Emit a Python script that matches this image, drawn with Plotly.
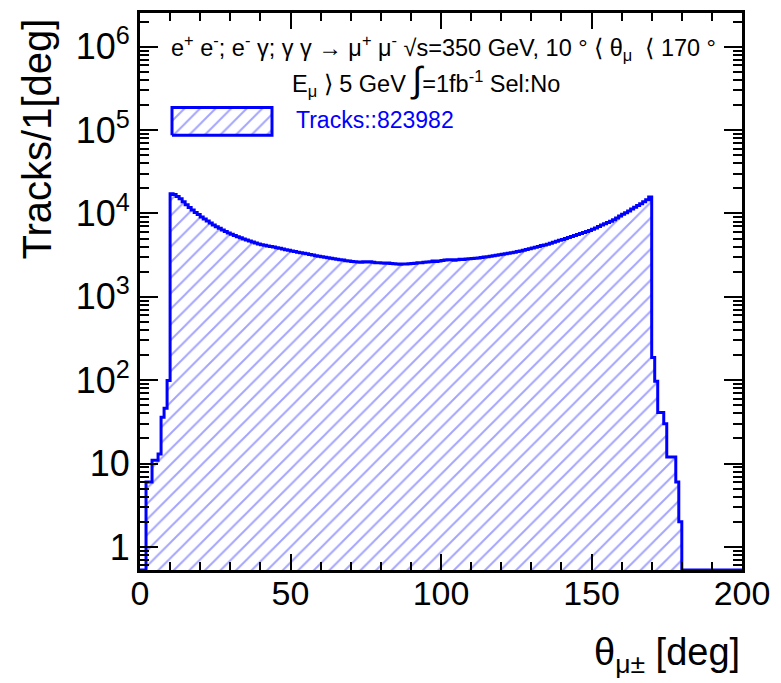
import numpy as np
import plotly.graph_objects as go

# ---- data: tracks per 1-degree bin, theta from 0 to 200 deg ----
bin_edges_start = 0
bin_width = 1
counts = [
    0, 0, 6, 6, 11, 11, 13, 36, 46, 99,                              # 0-9
    17300, 16900, 16000, 15000, 13800, 12700, 11800, 11000, 10300, 9700,   # 10-19
    9100, 8600, 8100, 7700, 7300, 6950, 6650, 6350, 6100, 5850,      # 20-29
    5650, 5450, 5250, 5100, 4950, 4800, 4680, 4550, 4420, 4320,      # 30-39
    4230, 4150, 4080, 4010, 3950, 3880, 3820, 3750, 3680, 3620,      # 40-49
    3560, 3500, 3440, 3390, 3330, 3280, 3220, 3170, 3120, 3070,      # 50-59
    3030, 2990, 2950, 2900, 2860, 2830, 2790, 2760, 2720, 2690,      # 60-69
    2660, 2640, 2620, 2600, 2640, 2620, 2640, 2600, 2560, 2570,      # 70-79
    2550, 2530, 2540, 2520, 2500, 2470, 2460, 2480, 2470, 2500,      # 80-89
    2520, 2530, 2560, 2570, 2600, 2620, 2640, 2700, 2660, 2700,      # 90-99
    2730, 2760, 2780, 2780, 2750, 2780, 2820, 2800, 2840, 2860,      # 100-109
    2880, 2900, 2930, 2960, 3000, 3030, 3070, 3110, 3150, 3190,      # 110-119
    3240, 3290, 3330, 3380, 3440, 3500, 3560, 3630, 3700, 3780,      # 120-129
    3860, 3940, 4030, 4120, 4200, 4290, 4400, 4520, 4640, 4760,      # 130-139
    4880, 5000, 5150, 5300, 5450, 5600, 5760, 5920, 6080, 6240,      # 140-149
    6450, 6700, 7000, 7300, 7550, 7800, 8050, 8400, 8800, 9300,      # 150-159
    9800, 10200, 10700, 11300, 11900, 12500, 13100, 13800, 14600, 15800,  # 160-169
    187, 97, 41, 41, 30, 12, 12, 12, 6, 2,                           # 170-179
    0, 0, 0, 0, 0, 0, 0, 0, 0, 0,                                    # 180-189
    0, 0, 0, 0, 0, 0, 0, 0, 0, 0,                                    # 190-199
]
x_ticks = [0, 50, 100, 150, 200]
y_tickvals = [1, 10, 100, 1e3, 1e4, 1e5, 1e6]
y_ticktext = ["1", "10", "10<sup>2</sup>", "10<sup>3</sup>", "10<sup>4</sup>",
              "10<sup>5</sup>", "10<sup>6</sup>"]
legend_label = "Tracks::823982"

# ---- layout constants ----
W, H = 781, 683
ML, MR, MT, MB = 140, 39, 10, 113
PW, PH = W - ML - MR, H - MT - MB
Y_LOG_RANGE = [-0.2765, 6.405]
FONT = "Liberation Sans, Arial, Helvetica, sans-serif"
BLUE = "#0000ff"
HATCH = "#4a4aff"

counts = np.array(counts, dtype=float)
nb = len(counts)
edges = bin_edges_start + bin_width * np.arange(nb + 1)
ymin_val = 10 ** Y_LOG_RANGE[0]
low = 1e-3

# fill polygon (step outline closed down below the axis)
px, py = [edges[0]], [low]
for i in range(nb):
    v = counts[i] if counts[i] > 0 else low
    px += [edges[i], edges[i + 1]]
    py += [v, v]
px.append(edges[-1]); py.append(low)

# outline: zero bins drawn on the bottom frame as ROOT does
line_y = np.where(counts > 0, counts, ymin_val)
lx = list(edges)
ly = list(line_y) + [line_y[-1]]

pattern = dict(shape="/", fgcolor=HATCH, bgcolor="rgba(255,255,255,0)",
               size=11, solidity=0.18, fillmode="overlay")

fig = go.Figure()
fig.add_trace(go.Scatter(
    x=px, y=py, mode="lines", fill="toself", line=dict(width=0, color=BLUE),
    fillcolor="rgba(255,255,255,0)", fillpattern=pattern,
    hoverinfo="skip", showlegend=False))
fig.add_trace(go.Scatter(
    x=lx, y=ly, mode="lines", line=dict(color=BLUE, width=3, shape="hv"),
    showlegend=False))

def fx(v):  # figure pixel -> paper (plot-area) fraction
    return (v - ML) / PW

def fy(v):
    return (H - MB - v) / PH

# legend key box on an overlay axis in plot-fraction units
bx0, bx1, by0, by1 = fx(172), fx(272), fy(133), fy(105)
fig.add_trace(go.Scatter(
    x=[bx0, bx1, bx1, bx0, bx0], y=[by0, by0, by1, by1, by0],
    xaxis="x2", yaxis="y2", mode="lines", fill="toself",
    line=dict(color=BLUE, width=3), fillcolor="rgba(255,255,255,0)",
    fillpattern=pattern, hoverinfo="skip", showlegend=False))

minor_vals = [m * 10 ** e for e in range(-1, 7) for m in range(2, 10)]

fig.update_layout(
    width=W, height=H, margin=dict(l=ML, r=MR, t=MT, b=MB),
    paper_bgcolor="white", plot_bgcolor="white",
    font=dict(family=FONT, color="black"),
    xaxis=dict(range=[0, 200], tickvals=x_ticks, ticks="inside", ticklen=16,
               tickwidth=2, tickcolor="black", showline=True, linewidth=3,
               linecolor="black", mirror="ticks", showgrid=False, zeroline=False,
               tickfont=dict(size=34, family=FONT), ticklabelstandoff=-9,
               minor=dict(tickvals=list(range(0, 201, 10)), ticks="inside",
                          ticklen=8, tickwidth=2, tickcolor="black")),
    yaxis=dict(type="log", range=Y_LOG_RANGE, tickvals=y_tickvals,
               ticktext=y_ticktext, ticks="inside", ticklen=18, tickwidth=2,
               tickcolor="black", showline=True, linewidth=3, linecolor="black",
               mirror="ticks", showgrid=False, zeroline=False,
               tickfont=dict(size=36, family=FONT), ticklabelstandoff=0,
               minor=dict(tickvals=minor_vals, ticks="inside", ticklen=9,
                          tickwidth=2, tickcolor="black")),
    xaxis2=dict(overlaying="x", range=[0, 1], visible=False, fixedrange=True),
    yaxis2=dict(overlaying="y", range=[0, 1], visible=False, fixedrange=True),
)

line1 = ("e<sup>+</sup> e<sup>-</sup>; e<sup>-</sup> γ; γ γ → μ<sup>+</sup> μ<sup>-</sup> "
         "√s=350 GeV, 10 ° ⟨ θ<sub>μ</sub>  ⟨ 170 °")
line2 = ("E<sub>μ</sub> ⟩ 5 GeV <span style='font-size:36px'>∫</span>=1fb<sup>-1</sup> Sel:No")

fig.add_annotation(text=line1, xref="paper", yref="paper", x=fx(169), y=fy(45),
                   xanchor="left", yanchor="middle", showarrow=False,
                   font=dict(size=23.5, family=FONT, color="black"))
fig.add_annotation(text=line2, xref="paper", yref="paper", x=fx(290), y=fy(77),
                   xanchor="left", yanchor="middle", showarrow=False,
                   font=dict(size=23.5, family=FONT, color="black"))
fig.add_annotation(text=legend_label, xref="paper", yref="paper", x=fx(294), y=fy(118),
                   xanchor="left", yanchor="middle", showarrow=False,
                   font=dict(size=23, family=FONT, color=BLUE))
fig.add_annotation(text="Tracks/1[deg]", xref="paper", yref="paper", x=fx(37), y=fy(14),
                   xanchor="center", yanchor="top", textangle=-90, showarrow=False,
                   font=dict(size=40, family=FONT, color="black"))
fig.add_annotation(text="θ<sub>μ±</sub> [deg]", xref="paper", yref="paper", x=fx(742), y=fy(655),
                   xanchor="right", yanchor="middle", showarrow=False,
                   font=dict(size=38, family=FONT, color="black"))

fig.write_html("out.html")
